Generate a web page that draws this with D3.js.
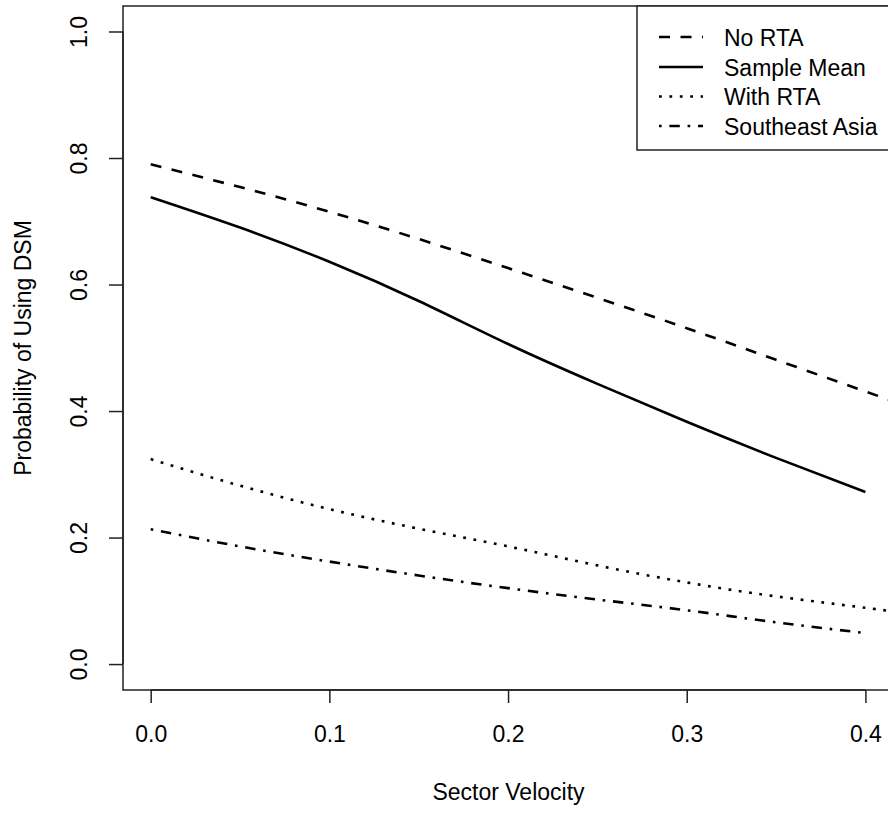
<!DOCTYPE html>
<html>
<head>
<meta charset="utf-8">
<script src="https://cdn.jsdelivr.net/npm/d3@7/dist/d3.min.js"></script>
<style>
  html, body { margin: 0; padding: 0; background: #fff; }
  svg { display: block; }
  text { font-family: "Liberation Sans", Arial, sans-serif; fill: #000; }
</style>
</head>
<body>
<svg id="chart" width="888" height="813"></svg>
<script>
// ---- data ----
const xNoRTA   = [0, 0.05, 0.10, 0.15, 0.20, 0.25, 0.30, 0.35, 0.40, 0.42];
const yNoRTA   = [0.790, 0.754, 0.715, 0.672, 0.626, 0.579, 0.531, 0.481, 0.431, 0.411];
const xMean    = [0, 0.05, 0.10, 0.15, 0.20, 0.25, 0.30, 0.35, 0.40];
const yMean    = [0.738, 0.690, 0.636, 0.574, 0.506, 0.443, 0.383, 0.326, 0.272];
const xWithRTA = [0, 0.05, 0.10, 0.15, 0.20, 0.25, 0.30, 0.35, 0.40, 0.42];
const yWithRTA = [0.324, 0.282, 0.245, 0.214, 0.186, 0.156, 0.129, 0.107, 0.089, 0.081];
const xSEA     = [0, 0.05, 0.10, 0.15, 0.20, 0.25, 0.30, 0.35, 0.40];
const ySEA     = [0.213, 0.186, 0.162, 0.140, 0.120, 0.102, 0.085, 0.066, 0.049];

const xTicks = [0, 0.1, 0.2, 0.3, 0.4];
const yTicks = [0, 0.2, 0.4, 0.6, 0.8, 1.0];
const legendLabels = ["No RTA", "Sample Mean", "With RTA", "Southeast Asia"];
const xTitle = "Sector Velocity";
const yTitle = "Probability of Using DSM";

// ---- layout ----
const svg = d3.select("#chart");
const plotL = 123, plotR = 894, plotT = 6, plotB = 690;
const x = d3.scaleLinear().domain([-0.0155, 0.416]).range([plotL, plotR]);
const y = d3.scaleLinear().domain([-0.041, 1.0403]).range([plotB, plotT]);

const lw = 2.6;
const styles = [
  { dash: "11,10.5" },
  { dash: null },
  { dash: "2.8,7.6" },
  { dash: "2.6,7.8,10.4,7.8" }
];

svg.append("defs").append("clipPath").attr("id", "plotclip")
  .append("rect").attr("x", plotL).attr("y", plotT)
  .attr("width", plotR - plotL).attr("height", plotB - plotT);

const series = [
  { xs: xNoRTA, ys: yNoRTA },
  { xs: xMean, ys: yMean },
  { xs: xWithRTA, ys: yWithRTA },
  { xs: xSEA, ys: ySEA }
];

const line = d3.line().x(d => x(d[0])).y(d => y(d[1])).curve(d3.curveNatural);
const gLines = svg.append("g").attr("clip-path", "url(#plotclip)");
series.forEach((s, i) => {
  const pts = s.xs.map((v, j) => [v, s.ys[j]]);
  gLines.append("path")
    .attr("d", line(pts))
    .attr("fill", "none")
    .attr("stroke", "#000")
    .attr("stroke-width", lw)
    .attr("stroke-dasharray", styles[i].dash)
    .attr("stroke-linecap", "butt");
});

// ---- box ----
svg.append("rect")
  .attr("x", plotL).attr("y", plotT)
  .attr("width", plotR - plotL).attr("height", plotB - plotT)
  .attr("fill", "none").attr("stroke", "#222").attr("stroke-width", 1.5);

// ---- x axis ----
const xAxis = d3.axisBottom(x).tickValues(xTicks).tickSize(13).tickPadding(0)
  .tickFormat(d3.format(".1f"));
const gx = svg.append("g").attr("transform", `translate(0,${plotB})`).call(xAxis);
gx.select(".domain").attr("stroke", "#222").attr("stroke-width", 1.5)
  .attr("d", `M${x(0)},0H${x(0.4)}`);
gx.selectAll(".tick line").attr("stroke", "#222").attr("stroke-width", 1.5);
gx.selectAll(".tick text")
  .attr("font-size", 23).attr("font-family", "Liberation Sans, Arial, sans-serif")
  .attr("fill", "#000").attr("y", 0).attr("dy", null)
  .attr("transform", "translate(0,52)");

// ---- y axis ----
const yAxis = d3.axisLeft(y).tickValues(yTicks).tickSize(14).tickPadding(0)
  .tickFormat(d3.format(".1f"));
const gy = svg.append("g").attr("transform", `translate(${plotL},0)`).call(yAxis);
gy.select(".domain").attr("stroke", "#222").attr("stroke-width", 1.5)
  .attr("d", `M0,${y(0)}V${y(1)}`);
gy.selectAll(".tick line").attr("stroke", "#222").attr("stroke-width", 1.5);
gy.selectAll(".tick text")
  .attr("font-size", 23).attr("font-family", "Liberation Sans, Arial, sans-serif")
  .attr("fill", "#000")
  .attr("x", 0).attr("dy", null).attr("y", 0)
  .attr("text-anchor", "middle")
  .attr("transform", "translate(-36,0) rotate(-90)");

// ---- titles ----
svg.append("text")
  .attr("x", (plotL + plotR) / 2).attr("y", 800)
  .attr("text-anchor", "middle").attr("font-size", 23)
  .text(xTitle);
svg.append("text")
  .attr("transform", `translate(31,${(plotT + plotB) / 2}) rotate(-90)`)
  .attr("text-anchor", "middle").attr("font-size", 23)
  .text(yTitle);

// ---- legend ----
const legX = 637, legY = plotT, legW = 270, legH = 144;
svg.append("rect")
  .attr("x", legX).attr("y", legY).attr("width", legW).attr("height", legH)
  .attr("fill", "#fff").attr("stroke", "#222").attr("stroke-width", 1.5);
const rowY = [37, 67, 96.5, 126];
legendLabels.forEach((lab, i) => {
  svg.append("line")
    .attr("x1", 659).attr("x2", 703)
    .attr("y1", rowY[i]).attr("y2", rowY[i])
    .attr("stroke", "#000").attr("stroke-width", lw)
    .attr("stroke-dasharray", styles[i].dash);
  svg.append("text")
    .attr("x", 724).attr("y", rowY[i] + 8.5)
    .attr("font-size", 23)
    .text(lab);
});
</script>
</body>
</html>
